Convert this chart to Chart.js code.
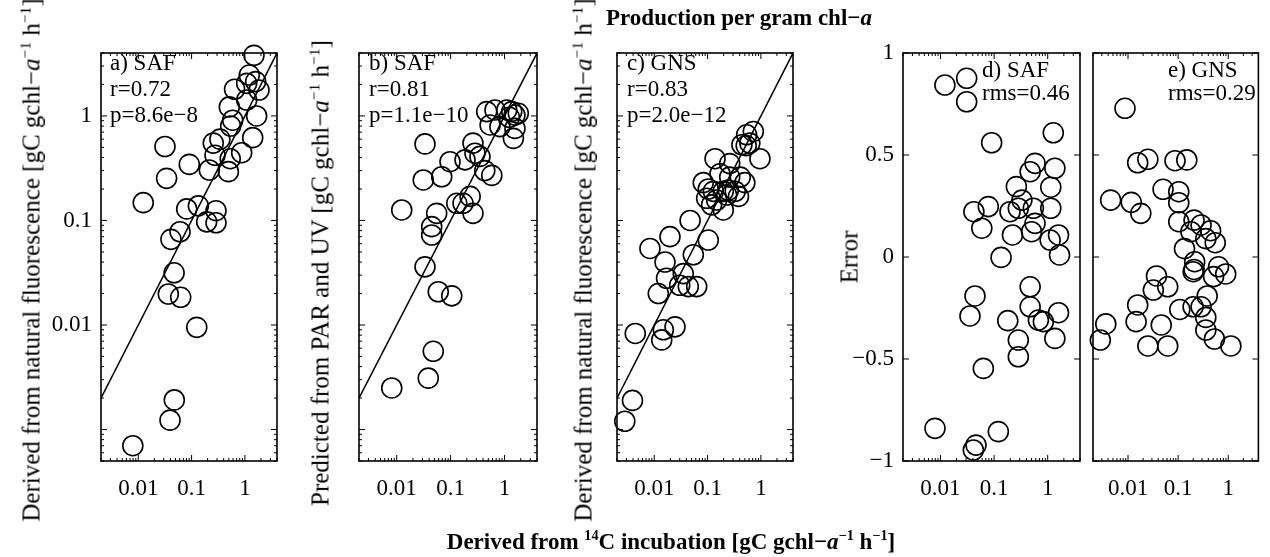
<!DOCTYPE html>
<html>
<head>
<meta charset="utf-8">
<title>Production per gram chl-a</title>
<script src="https://cdn.jsdelivr.net/npm/chart.js@4.4.1/dist/chart.umd.min.js"></script>
<style>
  body { margin: 0; background: #fff; }
  #figure { position: relative; width: 1270px; height: 557px; overflow: hidden; background: #fff;
            font-family: "Liberation Serif", "Times New Roman", serif; color: #000; }
  #figure canvas { position: absolute; left: 0; top: 0; }
  .label { position: absolute; white-space: nowrap; line-height: 1; }
  .ylabel { font-size: 25px; transform: translate(-50%, -50%) rotate(-90deg); }
  .title { font-size: 23px; font-weight: bold; }
  .centered { transform: translate(-50%, -50%); }
  sup { font-size: 0.62em; line-height: 0; vertical-align: 0.6em; }
</style>
</head>
<body>
<div id="figure">
  <canvas id="panelA" width="1270" height="557"></canvas>
  <canvas id="panelB" width="1270" height="557"></canvas>
  <canvas id="panelC" width="1270" height="557"></canvas>
  <canvas id="panelD" width="1270" height="557"></canvas>
  <canvas id="panelE" width="1270" height="557"></canvas>

  <div class="label title" style="left:606px; top:6px">Production per gram chl&minus;<i>a</i></div>
  <div class="label title centered" style="left:671px; top:541px">Derived from <sup>14</sup>C incubation [gC gchl&minus;<i>a</i><sup>&minus;1</sup> h<sup>&minus;1</sup>]</div>
  <div class="label ylabel" style="left:31px; top:260px">Derived from natural fluorescence [gC gchl&minus;<i>a</i><sup>&minus;1</sup> h<sup>&minus;1</sup>]</div>
  <div class="label ylabel" style="left:320px; top:273px">Predicted from PAR and UV [gC gchl&minus;<i>a</i><sup>&minus;1</sup> h<sup>&minus;1</sup>]</div>
  <div class="label ylabel" style="left:583px; top:260px">Derived from natural fluorescence [gC gchl&minus;<i>a</i><sup>&minus;1</sup> h<sup>&minus;1</sup>]</div>
  <div class="label ylabel" style="left:849px; top:257px">Error</div>
</div>

<script>
// axis ranges and tick labels
const xRange = [0.002, 4];
const prodRange = [0.0005, 4];
const errRange = [-1, 1];
const logTicks = [0.01, 0.1, 1];
const errTicks = [-1, -0.5, 0, 0.5, 1];
const unityLine = [0.002, 4];

// a) SAF: 14C incubation vs natural fluorescence
const safFluoX = [1.48, 1.21, 1.59, 1.08, 1.84, 0.64, 1.08, 0.51, 1.66, 0.59, 0.54, 1.40, 0.34, 0.255,
  0.0317, 0.87, 0.275, 0.53, 0.0906, 0.215, 0.49, 0.034, 0.0124, 0.081, 0.134, 0.287, 0.192, 0.287,
  0.0607, 0.041, 0.047, 0.0366, 0.0625, 0.125, 0.0474, 0.0394, 0.0079];
const safFluoY = [3.8, 2.46, 2.13, 2.05, 1.77, 1.80, 1.42, 1.22, 1.0, 0.91, 0.80, 0.62, 0.60, 0.55,
  0.51, 0.445, 0.42, 0.39, 0.344, 0.304, 0.293, 0.253, 0.148, 0.129, 0.138, 0.124, 0.097, 0.095,
  0.078, 0.066, 0.0316, 0.0198, 0.0184, 0.0095, 0.00192, 0.00123, 0.0007];

// b) SAF: 14C incubation vs PAR/UV model
const safParX = [0.0335, 0.0975, 0.0684, 0.0311, 0.0124, 0.130, 0.0552, 0.0446, 0.0446, 0.0335, 0.059,
  0.105, 0.0477, 0.0385, 0.0081, 0.467, 0.665, 1.10, 1.36, 1.56, 1.23, 1.80, 0.82, 0.54, 1.56, 1.46,
  0.26, 0.185, 0.283, 0.35, 0.43, 0.58, 0.23, 0.26, 0.17];
const safParY = [0.54, 0.365, 0.262, 0.244, 0.126, 0.146, 0.117, 0.0873, 0.0726, 0.036, 0.0208,
  0.019, 0.0056, 0.0031, 0.0025, 1.10, 1.14, 1.14, 1.10, 1.02, 0.97, 1.06, 0.79, 0.82, 0.76, 0.61,
  0.55, 0.38, 0.44, 0.41, 0.30, 0.27, 0.17, 0.117, 0.146];

// c) GNS: 14C incubation vs natural fluorescence
const gnsFluoX = [0.72, 0.54, 0.44, 0.53, 0.62, 0.96, 0.138, 0.26, 0.41, 0.50, 0.26, 0.171, 0.083,
  0.103, 0.128, 0.197, 0.245, 0.33, 0.38, 0.228, 0.148, 0.096, 0.119, 0.197, 0.047, 0.0197, 0.103,
  0.0083, 0.054, 0.0159, 0.035, 0.017, 0.030, 0.0435, 0.0625, 0.0119, 0.0044, 0.0148, 0.0245,
  0.0138, 0.0039, 0.0028];
const gnsFluoY = [0.71, 0.66, 0.53, 0.52, 0.55, 0.39, 0.39, 0.35, 0.26, 0.23, 0.26, 0.28, 0.23,
  0.20, 0.19, 0.19, 0.195, 0.19, 0.17, 0.175, 0.157, 0.163, 0.141, 0.126, 0.10, 0.070, 0.065,
  0.054, 0.047, 0.040, 0.031, 0.028, 0.024, 0.0233, 0.0233, 0.020, 0.0083, 0.009, 0.0096,
  0.0072, 0.0019, 0.0012];

// d) SAF model error
const safErrX = [0.0121, 0.0308, 0.0308, 0.090, 0.58, 0.47, 0.26, 0.33, 0.078, 0.283, 0.042, 0.198,
  0.54, 0.059, 0.22, 0.50, 0.135, 0.044, 0.47, 0.0355, 0.47, 0.18, 0.67, 0.283, 0.283, 0.063,
  0.0079, 0.12, 0.046, 0.041, 1.27, 1.36, 1.14, 1.14, 0.58, 1.11, 1.59, 1.66, 0.83, 1.59, 1.36];
const safErrY = [0.843, 0.876, 0.761, 0.560, 0.459, 0.418, 0.345, 0.279, 0.247, 0.239, 0.222, 0.222,
  0.239, 0.141, 0.108, 0.124, -0.002, -0.191, -0.146, -0.289, -0.244, -0.312, -0.309, -0.407,
  -0.489, -0.546, -0.840, -0.856, -0.922, -0.946, 0.609, 0.435, 0.342, 0.239, 0.165, 0.083,
  0.108, 0.010, -0.317, -0.273, -0.399];

// e) GNS model error
const gnsErrX = [0.0087, 0.0156, 0.0249, 0.0867, 0.149, 0.0045, 0.0116, 0.018, 0.050, 0.103, 0.103,
  0.103, 0.208, 0.287, 0.18, 0.445, 0.55, 0.357, 0.134, 0.214, 0.208, 0.20, 0.64, 0.89, 0.51, 0.037,
  0.062, 0.032, 0.38, 0.0156, 0.108, 0.199, 0.287, 0.357, 0.0145, 0.046, 0.357, 0.0036, 0.0028,
  0.53, 0.0249, 0.062, 1.13];
const gnsErrY = [0.729, 0.462, 0.479, 0.472, 0.476, 0.279, 0.268, 0.214, 0.332, 0.320, 0.266,
  0.173, 0.181, 0.157, 0.124, 0.129, 0.070, 0.090, 0.041, -0.023, -0.061, -0.072, -0.048, -0.083,
  -0.096, -0.093, -0.146, -0.162, -0.191, -0.235, -0.257, -0.244, -0.244, -0.296, -0.317, -0.333,
  -0.358, -0.328, -0.407, -0.402, -0.436, -0.436, -0.436];

const serif = '"Liberation Serif", "Times New Roman", serif';
const tickFont = { family: serif, size: 23 };
const PAGE_W = 1270, PAGE_H = 557;

// every tick position of an axis: decades and their minor steps on log axes
function tickValues(scale) {
  if (scale.type !== 'logarithmic') return scale.ticks.map(t => ({ v: t.value, major: true }));
  const out = [];
  const lo = Math.floor(Math.log10(scale.min)), hi = Math.ceil(Math.log10(scale.max));
  for (let d = lo; d <= hi; d++) {
    for (let m = 1; m <= 9; m++) {
      const v = m * Math.pow(10, d);
      if (v >= scale.min * 0.9999 && v <= scale.max * 1.0001) out.push({ v, major: m === 1 });
    }
  }
  return out;
}

// closed box with inward ticks on all four sides
const frameTicks = {
  id: 'frameTicks',
  afterDraw(chart) {
    const { ctx, chartArea: a, scales: { x, y } } = chart;
    ctx.save();
    ctx.strokeStyle = '#000';
    ctx.lineWidth = 1;
    ctx.beginPath();
    tickValues(x).forEach(t => {
      const px = x.getPixelForValue(t.v);
      const len = t.major ? 6 : 3;
      ctx.moveTo(px, a.bottom); ctx.lineTo(px, a.bottom - len);
      ctx.moveTo(px, a.top); ctx.lineTo(px, a.top + len);
    });
    tickValues(y).forEach(t => {
      const py = y.getPixelForValue(t.v);
      const len = t.major ? 6 : 3;
      ctx.moveTo(a.left, py); ctx.lineTo(a.left + len, py);
      ctx.moveTo(a.right, py); ctx.lineTo(a.right - len, py);
    });
    ctx.stroke();
    ctx.lineWidth = 1.6;
    ctx.strokeRect(a.left, a.top, a.right - a.left, a.bottom - a.top);
    ctx.restore();
  }
};

// panel caption lines in the upper part of the box
const panelText = {
  id: 'panelText',
  afterDraw(chart, args, opts) {
    if (!opts.lines) return;
    const { ctx, chartArea: a } = chart;
    ctx.save();
    ctx.font = '23px ' + serif;
    ctx.fillStyle = '#000';
    ctx.textBaseline = 'middle';
    opts.lines.forEach((s, i) => ctx.fillText(s, a.left + opts.dx, a.top + opts.dy + i * opts.lineHeight));
    ctx.restore();
  }
};

Chart.register(frameTicks, panelText);

const errLabel = v => (v < 0 ? '\u2212' + Math.abs(v) : String(v));

function makePanel(canvasId, box, xs, ys, cfg) {
  const [left, top, right, bottom] = box;
  const yWidth = 60, xHeight = 50;
  const datasets = [{
    data: xs.map((v, i) => ({ x: v, y: ys[i] })),
    pointStyle: 'circle',
    pointRadius: 10,
    pointHoverRadius: 10,
    pointBorderWidth: 1.6,
    borderColor: '#000',
    backgroundColor: 'rgba(0,0,0,0)',
    clip: false
  }];
  if (cfg.unity) {
    datasets.push({
      data: unityLine.map(v => ({ x: v, y: v })),
      showLine: true,
      pointRadius: 0,
      borderColor: '#000',
      borderWidth: 1.5
    });
  }
  const isLogY = cfg.yType === 'log';
  new Chart(document.getElementById(canvasId), {
    type: 'scatter',
    data: { datasets },
    options: {
      responsive: false,
      animation: false,
      events: [],
      layout: { padding: { left: left - yWidth, top: top, right: PAGE_W - right, bottom: PAGE_H - bottom - xHeight } },
      plugins: { legend: { display: false }, tooltip: { enabled: false }, panelText: cfg.text },
      scales: {
        x: {
          type: 'logarithmic',
          min: xRange[0], max: xRange[1],
          grid: { display: false, drawTicks: false },
          border: { display: false },
          afterBuildTicks: s => { s.ticks = logTicks.map(v => ({ value: v })); },
          afterFit: s => { s.height = xHeight; },
          ticks: { font: tickFont, color: '#000', padding: 14, maxRotation: 0, autoSkip: false,
                   callback: v => String(v) }
        },
        y: {
          type: isLogY ? 'logarithmic' : 'linear',
          min: isLogY ? prodRange[0] : errRange[0],
          max: isLogY ? prodRange[1] : errRange[1],
          grid: { display: false, drawTicks: false },
          border: { display: false },
          afterBuildTicks: s => { s.ticks = (isLogY ? logTicks : errTicks).map(v => ({ value: v })); },
          afterFit: s => { s.width = yWidth; },
          ticks: { display: !!cfg.yLabels, font: tickFont, color: '#000', padding: 9, autoSkip: false,
                   callback: v => (isLogY ? String(v) : errLabel(v)) }
        }
      }
    }
  });
}

makePanel('panelA', [101, 53, 277, 461], safFluoX, safFluoY,
  { yType: 'log', yLabels: true, unity: true, text: { lines: ['a) SAF', 'r=0.72', 'p=8.6e\u22128'], dx: 9, dy: 11, lineHeight: 26 } });
makePanel('panelB', [359, 53, 537, 461], safParX, safParY,
  { yType: 'log', yLabels: false, unity: true, text: { lines: ['b) SAF', 'r=0.81', 'p=1.1e\u221210'], dx: 10, dy: 11, lineHeight: 26 } });
makePanel('panelC', [617, 53, 793, 461], gnsFluoX, gnsFluoY,
  { yType: 'log', yLabels: false, unity: true, text: { lines: ['c) GNS', 'r=0.83', 'p=2.0e\u221212'], dx: 10, dy: 11, lineHeight: 26 } });
makePanel('panelD', [903, 53, 1080, 461], safErrX, safErrY,
  { yType: 'lin', yLabels: true, unity: false, text: { lines: ['d) SAF', 'rms=0.46'], dx: 79, dy: 18, lineHeight: 23 } });
makePanel('panelE', [1093, 53, 1267, 461], gnsErrX, gnsErrY,
  { yType: 'lin', yLabels: false, unity: false, text: { lines: ['e) GNS', 'rms=0.29'], dx: 75, dy: 18, lineHeight: 23 } });
</script>
</body>
</html>
